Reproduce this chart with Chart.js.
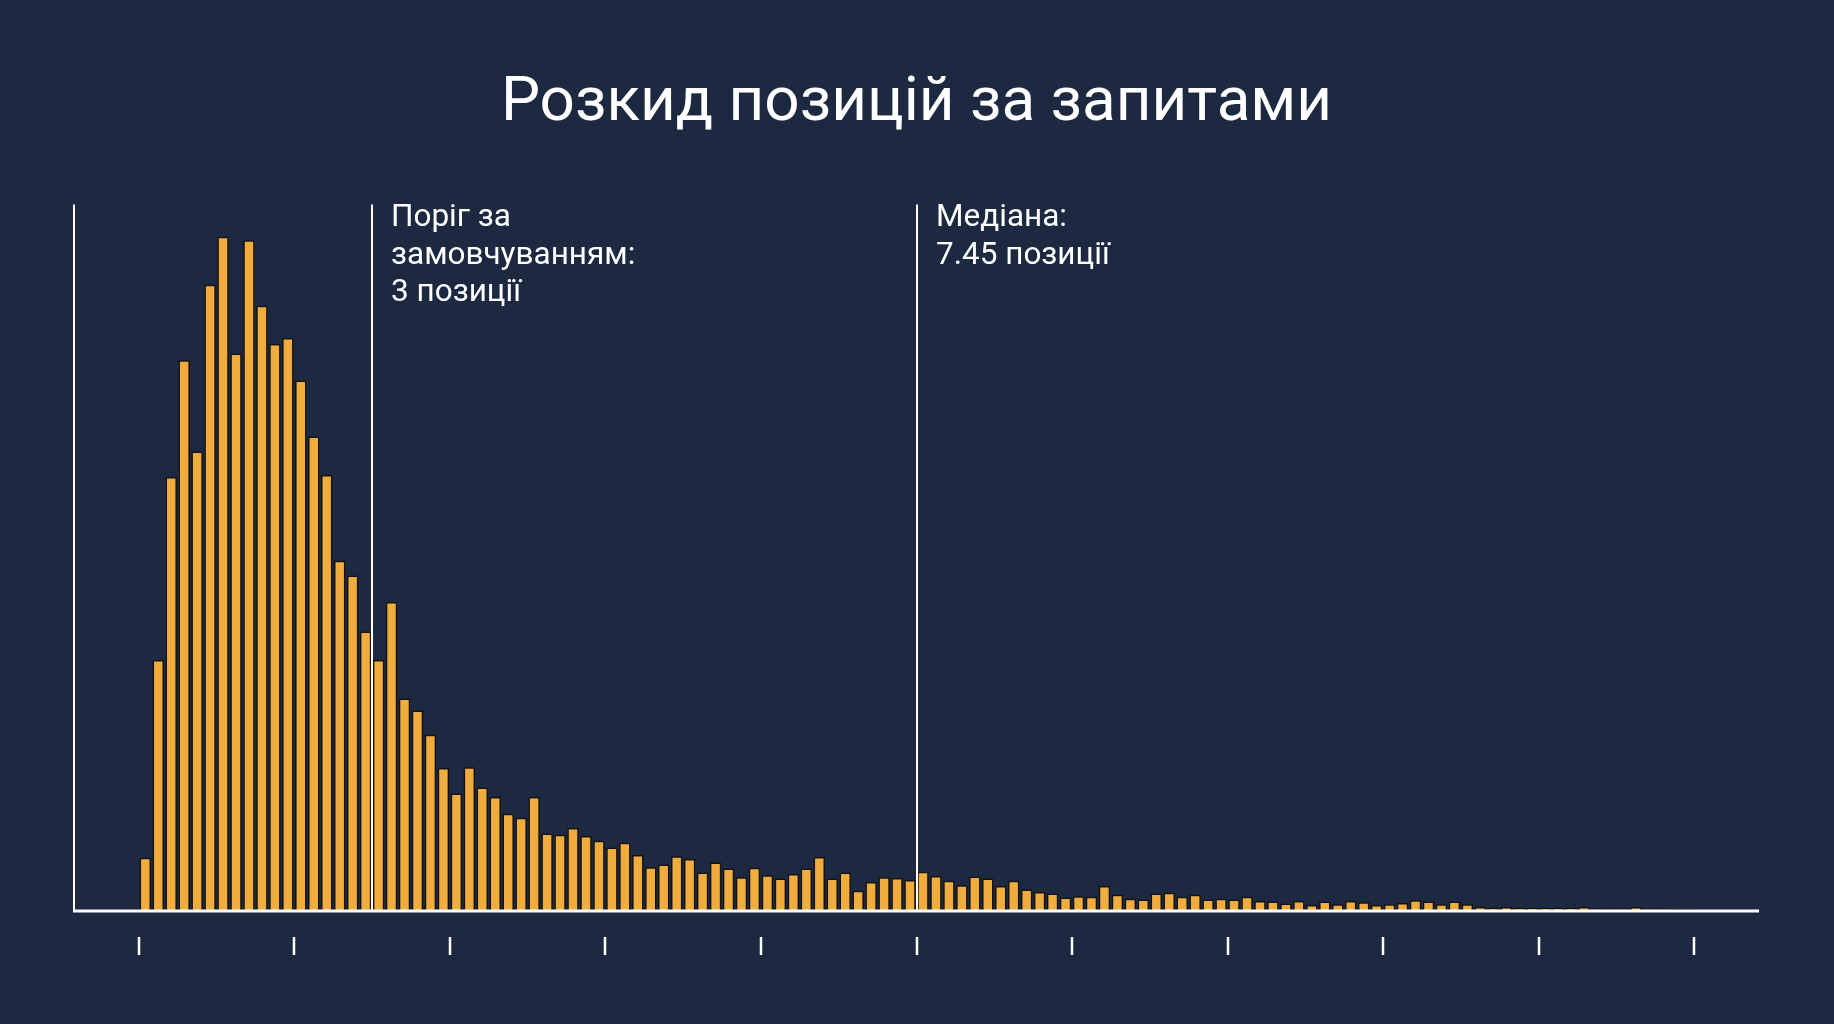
<!DOCTYPE html>
<html lang="uk">
<head>
<meta charset="utf-8">
<title>Розкид позицій за запитами</title>
<script src="https://cdn.jsdelivr.net/npm/chart.js@4.4.1/dist/chart.umd.min.js"></script>
<style>
  html, body { margin: 0; padding: 0; background: #1c2941; overflow: hidden; }
  #wrap { position: relative; width: 1834px; height: 1024px; }
</style>
</head>
<body>
<div id="wrap"><canvas id="chart-spread"></canvas></div>
<script>
/* Histogram of ranking positions per query — bars relative to the peak bin (=100) */

const TITLE = 'Розкид позицій за запитами';

// 120 bins
const binValues = [
  7.9, 37.2, 64.3, 81.6, 68.1, 92.8, 99.9, 82.6, 99.4, 89.7, 84.0, 84.9,
  78.6, 70.3, 64.6, 51.9, 49.7, 41.4, 37.2, 45.8, 31.5, 29.7, 26.1, 21.2,
  17.4, 21.3, 18.3, 16.9, 14.4, 13.8, 16.9, 11.5, 11.3, 12.3, 11.1, 10.4,
  9.4, 10.1, 8.3, 6.5, 6.9, 8.1, 7.7, 5.7, 7.2, 6.3, 5.0, 6.4,
  5.3, 4.8, 5.5, 6.3, 8.0, 4.8, 5.7, 3.0, 4.3, 5.0, 4.9, 4.6,
  5.8, 5.2, 4.5, 3.8, 5.1, 4.8, 3.7, 4.5, 3.2, 2.8, 2.6, 2.0,
  2.2, 2.1, 3.7, 2.4, 1.8, 1.7, 2.6, 2.7, 2.1, 2.4, 1.7, 1.8,
  1.7, 2.1, 1.5, 1.4, 1.1, 1.5, 0.9, 1.4, 1.0, 1.5, 1.3, 0.9,
  1.0, 1.2, 1.6, 1.4, 1.0, 1.4, 1.0, 0.6, 0.5, 0.6, 0.5, 0.5,
  0.5, 0.5, 0.5, 0.6, 0.4, 0.4, 0.4, 0.6, 0.4, 0.4, 0.3, 0.3,
];

// unlabeled x ticks, every 12 bins (bin edges)
const tickBins = [0, 12, 24, 36, 48, 60, 72, 84, 96, 108, 120];

// marker lines, in bin-edge units
const markerBins = [17.99, 60];
const markerLabels = [
  ['Поріг за', 'замовчуванням:', '3 позиції'],
  ['Медіана:', '7.45 позиції'],
];

const Y_MAX = 104.7;
const PAD_BINS = 5; // empty room left and right of the histogram

const FONT = 'Roboto, "Noto Sans", sans-serif';
const WHITE = '#ffffff';

/* ── Build category table ────────────────────────────────────────── */
const padding = Array(PAD_BINS).fill(null);
const seriesData = [...padding, ...binValues, ...padding];
const labels = seriesData.map((_, i) => String(i - PAD_BINS));

/* ── Axes, ticks and marker lines ────────────────────────────────── */
const overlayPlugin = {
  id: 'overlay',
  afterDatasetsDraw(chart) {
    const { ctx, chartArea, scales: { x } } = chart;
    const slot = x.width / labels.length;
    const edgeX = b => x.getPixelForValue(PAD_BINS) - slot / 2 + b * slot;

    ctx.save();
    ctx.strokeStyle = WHITE;
    ctx.lineCap = 'butt';

    // y axis + baseline
    ctx.lineWidth = 2;
    ctx.beginPath();
    ctx.moveTo(chartArea.left, chartArea.top);
    ctx.lineTo(chartArea.left, chartArea.bottom);
    ctx.stroke();
    ctx.lineWidth = 3;
    ctx.beginPath();
    ctx.moveTo(chartArea.left - 1, chartArea.bottom);
    ctx.lineTo(chartArea.right, chartArea.bottom);
    ctx.stroke();

    // detached tick marks below the axis
    ctx.lineWidth = 2.5;
    tickBins.forEach(b => {
      const px = Math.round(edgeX(b));
      ctx.beginPath();
      ctx.moveTo(px, chartArea.bottom + 26);
      ctx.lineTo(px, chartArea.bottom + 44);
      ctx.stroke();
    });

    // marker lines with their notes
    ctx.fillStyle = WHITE;
    ctx.font = `31.5px ${FONT}`;
    ctx.textBaseline = 'alphabetic';
    markerBins.forEach((b, k) => {
      const px = Math.round(edgeX(b));
      ctx.lineWidth = 2;
      ctx.beginPath();
      ctx.moveTo(px, chartArea.top);
      ctx.lineTo(px, chartArea.bottom);
      ctx.stroke();
      markerLabels[k].forEach((line, j) => {
        ctx.fillText(line, px + 19, chartArea.top + 22 + j * 37.5);
      });
    });
    ctx.restore();
  },
};

/* ── Chart ───────────────────────────────────────────────────────── */
new Chart(document.getElementById('chart-spread').getContext('2d'), {
  type: 'bar',
  data: {
    labels,
    datasets: [{
      data: seriesData,
      backgroundColor: '#f0ad3e',
      borderColor: 'rgba(22,14,2,0.9)',
      borderWidth: 1.5,
      categoryPercentage: 1,
      barPercentage: 0.88,
    }],
  },
  options: {
    responsive: true,
    maintainAspectRatio: false,
    animation: false,
    layout: { padding: { left: 74, right: 75, top: 0, bottom: 113 } },
    scales: {
      x: { display: false },
      y: { display: false, min: 0, max: Y_MAX },
    },
    plugins: {
      legend: { display: false },
      tooltip: { enabled: false },
      title: {
        display: true,
        text: TITLE,
        color: WHITE,
        font: { family: FONT, size: 62, weight: 'normal', lineHeight: 1.2 },
        padding: { top: 67, bottom: 63 },
      },
    },
  },
  plugins: [overlayPlugin],
});
</script>
</body>
</html>
